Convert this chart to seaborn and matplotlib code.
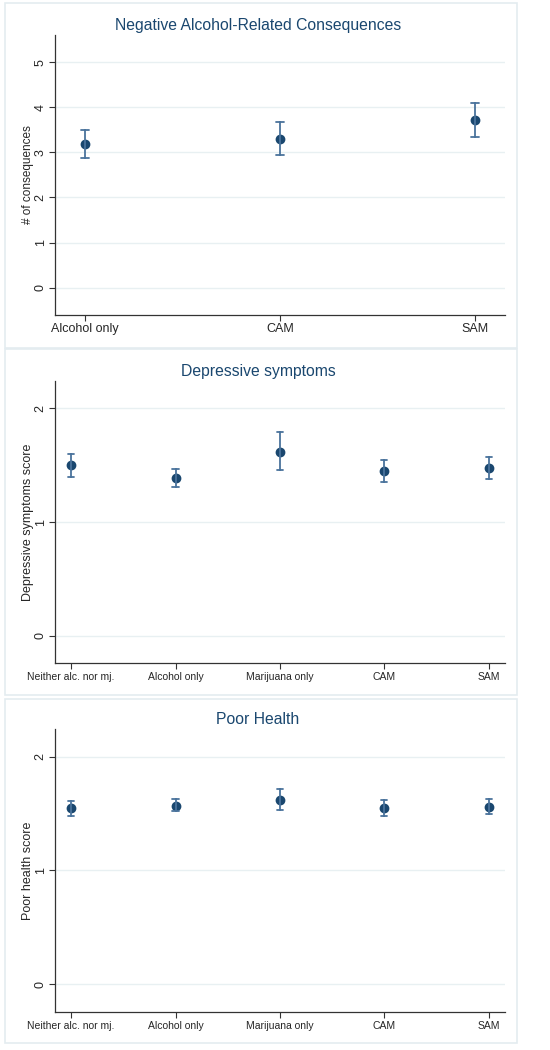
import numpy as np
import pandas as pd
import seaborn as sb
import matplotlib
matplotlib.use('Agg')
import matplotlib.pyplot as plt
from matplotlib.patches import Rectangle

# panel 1: negative alcohol-related consequences
groups1 = ['Alcohol only', 'CAM', 'SAM']
mean1 = [3.18, 3.31, 3.73]
low1 = [2.87, 2.94, 3.35]
high1 = [3.50, 3.67, 4.10]

# panels 2 and 3 share the five groups
groups5 = ['Neither alc. nor mj.', 'Alcohol only', 'Marijuana only', 'CAM', 'SAM']
mean2 = [1.50, 1.39, 1.62, 1.45, 1.48]
low2 = [1.40, 1.31, 1.46, 1.35, 1.38]
high2 = [1.60, 1.47, 1.79, 1.55, 1.57]

mean3 = [1.55, 1.57, 1.62, 1.55, 1.56]
low3 = [1.48, 1.52, 1.53, 1.48, 1.50]
high3 = [1.61, 1.63, 1.72, 1.62, 1.63]

navy = '#1a476f'
barcol = '#4a739c'
gridcol = '#e8f0f2'

sb.set_style('white')
plt.rcParams['font.family'] = ['Liberation Sans', 'DejaVu Sans']


def longForm(groups, mean, low, high):
    # three rows per group; median = point, min/max = interval
    rows = []
    for g, m, l, h in zip(groups, mean, low, high):
        for v in (l, m, h):
            rows.append({'group': g, 'value': v})
    return pd.DataFrame(rows)


def panel(fig, rect, groups, mean, low, high, title, ylabel, yticks, ylim, cap):
    ax = fig.add_axes(rect)
    df = longForm(groups, mean, low, high)
    sb.pointplot(data=df, x='group', y='value', order=groups,
                 estimator='median', errorbar=('pi', 100),
                 color=navy, markers='o', markersize=5,
                 linestyle='none', capsize=cap,
                 err_kws={'color': barcol, 'linewidth': 1.3}, ax=ax)
    ax.set_xlim(-0.155, len(groups) - 1 + 0.155)
    ax.set_ylim(*ylim)
    ax.set_yticks(yticks)
    ax.set_yticklabels([str(t) for t in yticks], rotation=90, va='center',
                       fontsize=9)
    ax.tick_params(axis='x', labelsize=9 if len(groups) == 3 else 7.5)
    ax.tick_params(axis='both', direction='out', length=4, width=0.8,
                   color='#333333', bottom=True, left=True, pad=2)
    for y in yticks:
        ax.axhline(y, color=gridcol, lw=1, zorder=0)
    for s in ['top', 'right']:
        ax.spines[s].set_visible(False)
    for s in ['left', 'bottom']:
        ax.spines[s].set_color('#333333')
        ax.spines[s].set_linewidth(0.9)
    ax.set_xlabel('')
    ax.set_ylabel(ylabel, fontsize=8.5 if len(groups) == 3 else 9,
                  labelpad=0.5)
    ax.set_title(title, fontsize=11.3, color=navy, pad=3.5, x=0.451)
    return ax


fig = plt.figure(figsize=(5.5, 10.5), dpi=100)

# light frames round each panel
for (y0, y1) in [(3, 348), (349, 695), (699, 1043)]:
    fig.patches.append(Rectangle((5 / 550, 1 - y1 / 1050), 512 / 550,
                                 (y1 - y0) / 1050, transform=fig.transFigure,
                                 fill=False, edgecolor='#e4ecf0', lw=1.2))

panel(fig, [0.1, 0.7, 0.818, 0.2667], groups1, mean1, low1, high1,
      'Negative Alcohol-Related Consequences', '# of consequences',
      [0, 1, 2, 3, 4, 5], (-0.61, 5.61), 0.04)
panel(fig, [0.1, 0.3683, 0.818, 0.2687], groups5, mean2, low2, high2,
      'Depressive symptoms', 'Depressive symptoms score',
      [0, 1, 2], (-0.243, 2.24), 0.06)
panel(fig, [0.1, 0.0359, 0.818, 0.2695], groups5, mean3, low3, high3,
      'Poor Health', 'Poor health score',
      [0, 1, 2], (-0.246, 2.24), 0.06)

fig.savefig('out.png', dpi=100)
